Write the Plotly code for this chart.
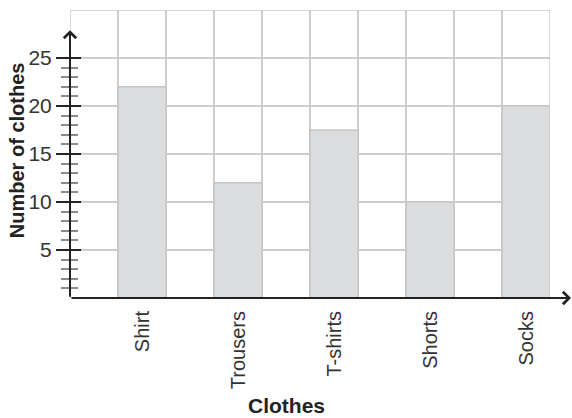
import plotly.graph_objects as go

# data
clothes = ["Shirt", "Trousers", "T-shirts", "Shorts", "Socks"]
counts = [22, 12, 17.5, 10, 20]
y_major = [5, 10, 15, 20, 25]
y_minor = [v for v in range(1, 25) if v % 5]

FONT = "Liberation Sans"
GRID = "#cdcdcd"
INK = "#222222"
LABEL = "#333333"

fig = go.Figure()
fig.add_trace(
    go.Bar(
        x=clothes,
        y=counts,
        width=0.5,
        marker=dict(color="#dbdcde", line=dict(color="#c6c6c6", width=1.5)),
        hoverinfo="skip",
        showlegend=False,
    )
)
# empty trace so the overlay axes (grid columns + crossing ticks) get drawn
fig.add_trace(go.Scatter(x=[None], y=[None], xaxis="x2", yaxis="y2",
                         showlegend=False, hoverinfo="skip"))

fig.update_layout(
    width=572,
    height=418,
    margin=dict(l=70, r=22, t=10, b=120),
    paper_bgcolor="white",
    plot_bgcolor="white",
    font=dict(family=FONT, color=LABEL, size=20),
    xaxis=dict(
        type="category",
        range=[-0.75, 4.25],
        tickangle=-90,
        ticks="",
        ticklabelstandoff=8,
        showgrid=False,
        zeroline=False,
        showline=False,
        tickfont=dict(size=20, color=LABEL),
    ),
    xaxis2=dict(
        overlaying="x",
        range=[0, 10],
        tick0=0,
        dtick=1,
        showgrid=True,
        gridcolor=GRID,
        gridwidth=1.5,
        showticklabels=False,
        ticks="",
        zeroline=False,
        showline=False,
    ),
    yaxis=dict(
        range=[0, 30],
        tickvals=y_major,
        ticks="outside",
        ticklen=13,
        tickwidth=2,
        tickcolor=INK,
        showgrid=True,
        gridcolor=GRID,
        gridwidth=1.5,
        zeroline=False,
        showline=False,
        tickfont=dict(size=21, color=LABEL),
        minor=dict(tickvals=y_minor, ticks="outside", ticklen=8,
                   tickwidth=1.5, tickcolor="#8a8a8a", showgrid=False),
        automargin=False,
    ),
    yaxis2=dict(
        overlaying="y",
        range=[0, 30],
        tickvals=y_major,
        ticks="inside",
        ticklen=11,
        tickwidth=2,
        tickcolor=INK,
        showticklabels=False,
        showgrid=False,
        zeroline=False,
        showline=False,
        minor=dict(tickvals=y_minor, ticks="inside", ticklen=8,
                   tickwidth=1.5, tickcolor="#8a8a8a", showgrid=False),
    ),
)

# outer border of the grid
fig.add_shape(type="rect", xref="x2", yref="y", x0=0, x1=10, y0=0, y1=30,
              line=dict(color=GRID, width=1.5), layer="below")

# axis lines with open arrow heads (paper refs so they are not clipped)
fig.add_annotation(x=1.0438, y=0, xref="paper", yref="paper",
                   ax=-501, ay=0, text="", showarrow=True,
                   arrowhead=4, arrowsize=1.2, arrowwidth=2, arrowcolor=INK)
fig.add_annotation(x=0, y=0.93, xref="paper", yref="paper",
                   ax=0, ay=268, text="", showarrow=True,
                   arrowhead=4, arrowsize=1.2, arrowwidth=2, arrowcolor=INK)

# axis titles
fig.add_annotation(text="<b>Number of clothes</b>", xref="paper", yref="paper",
                   x=-0.11, y=0.514, textangle=-90, showarrow=False,
                   xanchor="center", yanchor="middle",
                   font=dict(size=20, color=INK))
fig.add_annotation(text="<b>Clothes</b>", xref="paper", yref="paper",
                   x=0.45, y=-0.372, showarrow=False, yanchor="middle",
                   font=dict(size=21, color=INK))

# drop the default page margin so the figure fills the window exactly
fig.write_html("out.html", config={"displayModeBar": False},
               post_script="document.body.style.margin='0';")
